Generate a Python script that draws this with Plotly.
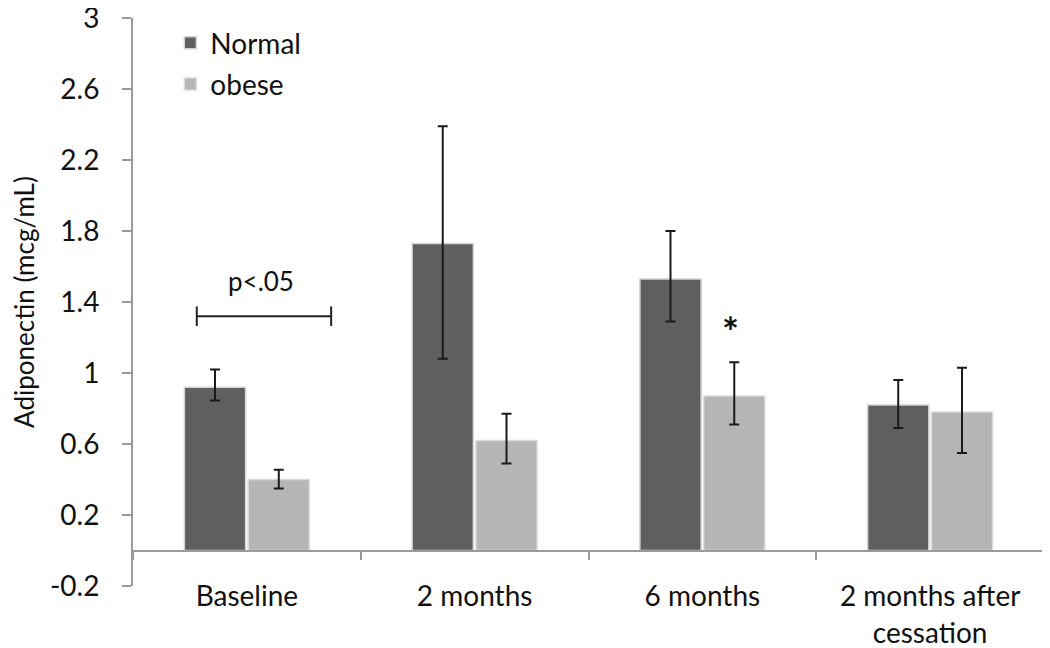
import plotly.graph_objects as go

# data
categories = ["Baseline", "2 months", "6 months", "2 months after<br>cessation"]
normal_mean = [0.92, 1.73, 1.53, 0.82]
normal_err_up = [0.10, 0.66, 0.27, 0.14]
normal_err_down = [0.075, 0.65, 0.24, 0.13]
obese_mean = [0.40, 0.62, 0.87, 0.78]
obese_err_up = [0.055, 0.15, 0.19, 0.25]
obese_err_down = [0.05, 0.13, 0.16, 0.23]

y_tickvals = [-0.2, 0.2, 0.6, 1, 1.4, 1.8, 2.2, 2.6, 3]
y_ticktext = ["-0.2", "0.2", "0.6", "1", "1.4", "1.8", "2.2", "2.6", "3"]

FONT = "Lato"
FSIZE = 28
AXIS_GREY = "#9a9a9a"

fig = go.Figure()

fig.add_trace(go.Bar(
    name="Normal", x=categories, y=normal_mean,
    marker=dict(color="#5f5f5f", line=dict(color="#d4d4d4", width=1.5)),
    error_y=dict(type="data", symmetric=False, array=normal_err_up,
                 arrayminus=normal_err_down, color="#1a1a1a", thickness=2, width=5),
    legendgroup="a",
))
fig.add_trace(go.Bar(
    name="obese", x=categories, y=obese_mean,
    marker=dict(color="#b5b5b5", line=dict(color="#dcdcdc", width=1.5)),
    error_y=dict(type="data", symmetric=False, array=obese_err_up,
                 arrayminus=obese_err_down, color="#1a1a1a", thickness=2, width=5),
    legendgroup="b",
))

# significance bracket over Baseline
br_y = 1.32
fig.add_shape(type="line", x0=-0.22, x1=0.37, y0=br_y, y1=br_y, xref="x", yref="y",
              line=dict(color="#222", width=2))
for bx in (-0.22, 0.37):
    fig.add_shape(type="line", x0=bx, x1=bx, y0=br_y - 0.055, y1=br_y + 0.055,
                  xref="x", yref="y", line=dict(color="#222", width=2))
fig.add_annotation(x=0.06, y=1.52, xref="x", yref="y", text="p<.05", showarrow=False,
                   font=dict(family=FONT, size=26, color="#111"))
fig.add_annotation(x=2, y=1.23, xref="x", yref="y", xshift=28, text="<b>*</b>", showarrow=False,
                   font=dict(family=FONT, size=40, color="#111"))

# the page body adds an 8px offset, so the figure is 8px smaller with trimmed left/top margins
fig.update_layout(
    width=1036, height=640,
    margin=dict(l=125, r=0, t=10, b=62),
    paper_bgcolor="white", plot_bgcolor="white",
    font=dict(family=FONT, size=FSIZE, color="#111"),
    barmode="group", bargap=0.44, bargroupgap=0.04,
    showlegend=True,
    legend=dict(x=0.041, y=1.0, xanchor="left", yanchor="top", bgcolor="rgba(0,0,0,0)",
                tracegroupgap=2, font=dict(family=FONT, size=FSIZE)),
)

fig.update_xaxes(
    type="category", anchor="free", position=0.0625, automargin=False,
    showline=True, linecolor=AXIS_GREY, linewidth=2,
    ticks="outside", tickson="boundaries", ticklen=8, tickcolor=AXIS_GREY, tickwidth=1.5,
    ticklabelstandoff=21, showgrid=False, zeroline=False,
    tickfont=dict(family=FONT, size=FSIZE, color="#111"),
)
fig.update_yaxes(
    range=[-0.2, 3.0], tickvals=y_tickvals, ticktext=y_ticktext, automargin=False,
    ticklabeloverflow="allow",
    showline=True, linecolor=AXIS_GREY, linewidth=2,
    ticks="outside", ticklen=9, tickcolor=AXIS_GREY, tickwidth=1.5,
    ticklabelstandoff=17, showgrid=False, zeroline=False,
    tickfont=dict(family=FONT, size=FSIZE, color="#111"),
    title=dict(text="Adiponectin (mcg/mL)", standoff=29,
               font=dict(family=FONT, size=FSIZE - 2, color="#111")),
)

fig.write_html("out.html")
